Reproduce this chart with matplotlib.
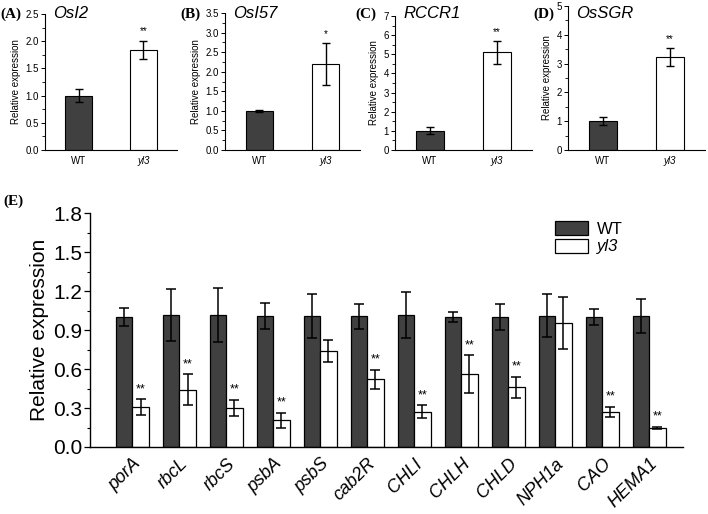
import matplotlib
matplotlib.use("Agg")
import matplotlib.pyplot as plt
import numpy as np
from matplotlib.ticker import MultipleLocator, AutoMinorLocator

plt.rcParams['font.family'] = ['Liberation Sans', 'DejaVu Sans']

# ---- top panels data ----
top_titles = ["OsI2", "OsI57", "RCCR1", "OsSGR"]
top_letters = ["(A)", "(B)", "(C)", "(D)"]
top_wt = [1.00, 1.00, 1.01, 1.02]
top_wt_err = [0.12, 0.03, 0.18, 0.14]
top_yl3 = [1.84, 2.20, 5.10, 3.22]
top_yl3_err = [0.17, 0.53, 0.60, 0.32]
top_stars = ["**", "*", "**", "**"]
top_ymax = [2.5, 3.5, 7, 5]
top_ystep = [0.5, 0.5, 1, 1]

# ---- bottom panel data ----
genes = ["porA", "rbcL", "rbcS", "psbA", "psbS", "cab2R", "CHLI", "CHLH",
         "CHLD", "NPH1a", "CAO", "HEMA1"]
wt = [1.00, 1.015, 1.015, 1.005, 1.01, 1.005, 1.015, 1.00, 1.00, 1.01, 1.00, 1.005]
wt_err = [0.07, 0.20, 0.21, 0.10, 0.17, 0.095, 0.18, 0.035, 0.10, 0.165, 0.065, 0.13]
yl3 = [0.31, 0.44, 0.30, 0.205, 0.74, 0.52, 0.27, 0.56, 0.46, 0.955, 0.27, 0.147]
yl3_err = [0.06, 0.12, 0.065, 0.06, 0.085, 0.075, 0.05, 0.145, 0.08, 0.20, 0.04, 0.01]
stars = ["**", "**", "**", "**", "", "**", "**", "**", "**", "", "**", "**"]

WT_COLOR = "#404040"
W, H = 708, 514
fig = plt.figure(figsize=(W / 100, H / 100), dpi=100)

def px_axes(left, top, right, bottom):
    return fig.add_axes([left / W, 1 - bottom / H, (right - left) / W, (bottom - top) / H])

top_boxes = [(45, 14, 177, 150), (225, 13, 360, 150), (395, 16, 532, 150), (568, 6, 705, 150)]
letter_x = [0, 180, 355, 533]
ekw = dict(elinewidth=1.0, capsize=3, capthick=1.0, ecolor="black")
for i, (l, t, r, b) in enumerate(top_boxes):
    ax = px_axes(l, t, r, b)
    bw = 0.42
    ax.bar([0], [top_wt[i]], bw, yerr=[top_wt_err[i]], color=WT_COLOR,
           edgecolor="black", linewidth=0.8, error_kw=ekw)
    ax.bar([1], [top_yl3[i]], bw, yerr=[top_yl3_err[i]], color="white",
           edgecolor="black", linewidth=0.8, error_kw=ekw)
    ax.text(1, top_yl3[i] + top_yl3_err[i] + top_ymax[i] * 0.03, top_stars[i],
            ha="center", va="bottom", fontsize=7)
    ax.set_xlim(-0.52, 1.52)
    ax.set_ylim(0, top_ymax[i])
    ax.yaxis.set_major_locator(MultipleLocator(top_ystep[i]))
    ax.yaxis.set_minor_locator(AutoMinorLocator(2))
    if top_ystep[i] < 1:
        ax.yaxis.set_major_formatter(matplotlib.ticker.FormatStrFormatter('%.1f'))
    ax.set_xticks([0, 1])
    ax.set_xticklabels(["WT", "yl3"], fontsize=7)
    ax.get_xticklabels()[1].set_style("italic")
    ax.tick_params(axis="x", length=0, pad=4)
    ax.tick_params(axis="y", which="major", labelsize=7, length=3, width=0.7,
                   direction="out", pad=1.5)
    ax.tick_params(axis="y", which="minor", length=2, width=0.6, direction="out")
    for s in ["top", "right"]:
        ax.spines[s].set_visible(False)
    for s in ["left", "bottom"]:
        ax.spines[s].set_linewidth(0.8)
    ax.set_ylabel("Relative expression", fontsize=7, labelpad=3)
    fig.text((l + 8) / W, 1 - 13 / H, top_titles[i], fontsize=12,
             style="italic", ha="left", va="center")
    fig.text(letter_x[i] / W, 1 - 14 / H, top_letters[i], fontsize=11, fontweight="bold",
             family="Liberation Serif", ha="left", va="center")

# ---- bottom panel ----
ax = px_axes(90, 213, 683, 447)
x = np.arange(len(genes))
bw = 0.35
ekw2 = dict(elinewidth=1.1, capsize=3.5, capthick=1.1, ecolor="black")
ax.bar(x - bw / 2, wt, bw, yerr=wt_err, color=WT_COLOR, edgecolor="black",
       linewidth=0.9, error_kw=ekw2, label="WT")
ax.bar(x + bw / 2, yl3, bw, yerr=yl3_err, color="white", edgecolor="black",
       linewidth=0.9, error_kw=ekw2, label="yl3")
for xi, v, e, s in zip(x, yl3, yl3_err, stars):
    if s:
        ax.text(xi + bw / 2, v + e + 0.03, s, ha="center", va="bottom", fontsize=9)
ax.set_xlim(-0.9, 11.72)
ax.set_ylim(0, 1.8)
ax.yaxis.set_major_locator(MultipleLocator(0.3))
ax.yaxis.set_minor_locator(AutoMinorLocator(2))
ax.yaxis.set_major_formatter(matplotlib.ticker.FormatStrFormatter('%.1f'))
ax.set_xticks(x)
ax.set_xticklabels(genes, fontsize=13, style="italic", rotation=45, ha="right",
                   rotation_mode="anchor")
ax.tick_params(axis="x", length=0, pad=6)
ax.tick_params(axis="y", which="major", labelsize=15, length=4, width=0.9,
               direction="out", pad=1.5)
ax.tick_params(axis="y", which="minor", length=2.5, width=0.8, direction="out")
for s in ["top", "right"]:
    ax.spines[s].set_visible(False)
for s in ["left", "bottom"]:
    ax.spines[s].set_linewidth(1.0)
ax.set_ylabel("Relative expression", fontsize=15, labelpad=3)
leg = fig.legend(*ax.get_legend_handles_labels(), loc="upper left",
                 bbox_to_anchor=(555 / W, 1 - 221 / H),
                 frameon=False, fontsize=12, handlelength=2.0, handleheight=0.95,
                 labelspacing=0.1, handletextpad=0.5, borderpad=0.0, borderaxespad=0.0)
leg.get_texts()[1].set_style("italic")
fig.text(3 / W, 1 - 201 / H, "(E)", fontsize=11, fontweight="bold",
         family="Liberation Serif", ha="left", va="center")

fig.savefig("out.png", dpi=100)
